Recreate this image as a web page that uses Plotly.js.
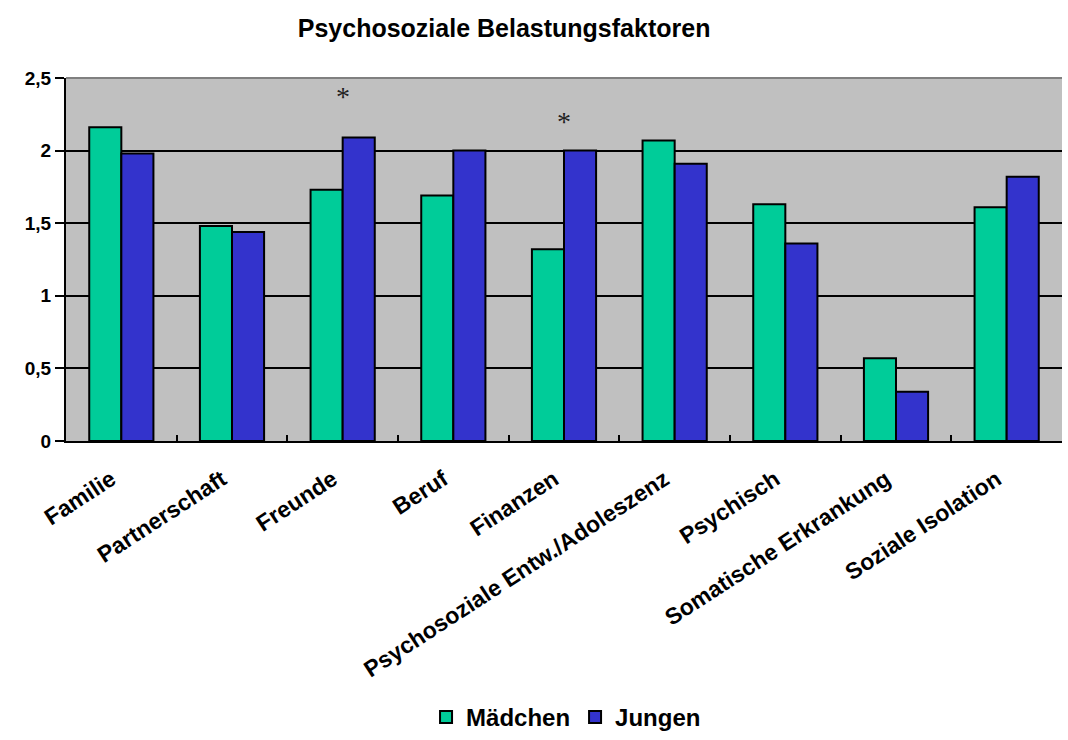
<!DOCTYPE html>
<html>
<head>
<meta charset="utf-8">
<script src="https://cdn.plot.ly/plotly-3.0.1.min.js"></script>
<style>html,body{margin:0;padding:0;background:#fff;}#chart{width:1068px;height:740px;}</style>
</head>
<body>
<div id="chart"></div>
<script>
const categories = ["Familie", "Partnerschaft", "Freunde", "Beruf", "Finanzen", "Psychosoziale Entw./Adoleszenz", "Psychisch", "Somatische Erkrankung", "Soziale Isolation"];
const maedchen = [2.16, 1.48, 1.73, 1.69, 1.32, 2.07, 1.63, 0.57, 1.61];
const jungen = [1.98, 1.44, 2.09, 2.00, 2.00, 1.91, 1.36, 0.34, 1.82];
const yTicks = [0, 0.5, 1, 1.5, 2, 2.5];
const yTickText = ["0", "0,5", "1", "1,5", "2", "2,5"];
const starCats = ["Freunde", "Finanzen"];
const starY = [2.37, 2.20];

const font = "Liberation Sans, Arial, sans-serif";
const traces = [
  {type: "bar", name: "Mädchen", x: categories, y: maedchen,
   marker: {color: "#00CC99", line: {color: "#000", width: 2}}},
  {type: "bar", name: "Jungen", x: categories, y: jungen,
   marker: {color: "#3333CC", line: {color: "#000", width: 2}}}
];
const layout = {
  width: 1068, height: 740,
  margin: {l: 66, r: 6, t: 78, b: 299},
  paper_bgcolor: "#fff", plot_bgcolor: "#C0C0C0",
  title: {text: "<b>Psychosoziale Belastungsfaktoren</b>", font: {family: font, size: 25, color: "#000"},
          x: 0.472, xref: "container", y: 0.962, yref: "container", yanchor: "middle", automargin: false},
  barmode: "group", bargap: 0.42, bargroupgap: 0,
  showlegend: true,
  legend: {orientation: "h", x: 0.53, xref: "container", xanchor: "center",
           y: -0.011, yref: "container", yanchor: "bottom",
           font: {family: font, size: 24, color: "#000", weight: "bold"}, itemwidth: 30,
           bgcolor: "rgba(0,0,0,0)"},
  xaxis: {type: "category", tickangle: -33, ticks: "inside", tickson: "boundaries", ticklen: 6,
          tickcolor: "#000", tickwidth: 2, showline: true, linecolor: "#000", linewidth: 2,
          showgrid: false, automargin: false, ticklabelstandoff: 14, ticklabelshift: -10,
          tickfont: {family: font, size: 23, color: "#000", weight: "bold"}, fixedrange: true},
  yaxis: {range: [0, 2.5], tickvals: yTicks, ticktext: yTickText, ticks: "outside", ticklen: 9,
          tickcolor: "#000", tickwidth: 2, showline: true, linecolor: "#000", linewidth: 2,
          showgrid: true, gridcolor: "#000", gridwidth: 2, zeroline: false, automargin: false,
          tickfont: {family: font, size: 19, color: "#000", weight: "bold"}, fixedrange: true},
  shapes: [
    {type: "line", xref: "paper", yref: "paper", x0: 0, x1: 1, y0: 1, y1: 1,
     line: {color: "#808080", width: 2}, layer: "above"}
  ],
  annotations: starCats.map((c, i) => ({x: c, y: starY[i], xref: "x", yref: "y", text: "*",
     showarrow: false, font: {family: "Liberation Serif, Times New Roman, serif", size: 28, color: "#222"}}))
};
Plotly.newPlot("chart", traces, layout, {displayModeBar: false, staticPlot: true});
</script>
</body>
</html>
